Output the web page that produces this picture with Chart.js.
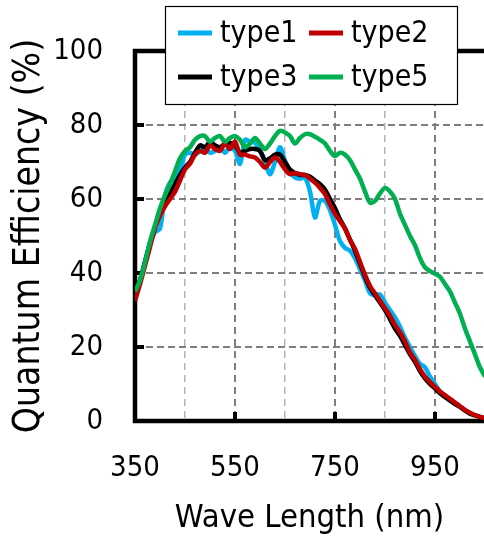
<!DOCTYPE html>
<html>
<head>
<meta charset="utf-8">
<script src="https://cdn.jsdelivr.net/npm/chart.js@4.4.1/dist/chart.umd.min.js"></script>
<style>
  html, body { margin: 0; padding: 0; background: #fff; }
  #wrap { width: 484px; height: 540px; }
</style>
</head>
<body>
<div id="wrap"><canvas id="qeChart" width="484" height="540"></canvas></div>
<script>
// wavelength (nm) sampled every 10 nm
const wavelengths = [350, 360, 370, 380, 390, 400, 410, 420, 430, 440,
    450, 460, 470, 480, 490, 500, 510, 520, 530, 540,
    550, 560, 570, 580, 590, 600, 610, 620, 630, 640,
    650, 660, 670, 680, 690, 700, 710, 720, 730, 740,
    750, 760, 770, 780, 790, 800, 810, 820, 830, 840,
    850, 860, 870, 880, 890, 900, 910, 920, 930, 940,
    950, 960, 970, 980, 990, 1000, 1010, 1020, 1030, 1040, 1050];

// quantum efficiency (%)
const type1 = [34, 38, 43, 48, 51, 52, 61, 64.5, 65.5, 68,
    72, 72.5, 72, 73, 74, 72.5, 73, 74, 72.5, 74,
    73, 69.5, 76, 75.5, 75.2, 73, 70, 66.7, 70, 74,
    70.3, 67.5, 65.8, 65.5, 65.8, 62, 55, 59.5, 59.5, 57,
    53, 48.6, 46.8, 46, 44, 41, 38, 34.5, 34, 34.2,
    32, 30, 28, 25.5, 22.5, 20, 17.5, 15.5, 14.5, 12,
    10, 8, 6.8, 5.8, 4.8, 4];
const type2 = [32.5, 37, 42, 47, 52, 55.5, 58, 60, 62, 65,
    68, 69.5, 72, 73, 72.5, 74.5, 73.5, 73, 75, 73.5,
    75.5, 72, 72, 71.5, 71.2, 70, 68.5, 70, 71.2, 70,
    68, 66.7, 67, 66.7, 66.5, 65.5, 64.4, 63, 61.3, 58.5,
    56, 54, 52, 49, 46.5, 43, 39.5, 36.5, 34.5, 32.5,
    30.5, 28.5, 26, 24, 21.5, 18.5, 16.5, 14, 12, 10.5,
    9.2, 8, 7, 6, 5, 4, 3, 2.2, 1.6, 1.1, 0.8];
const type3 = [34, 38, 43, 48, 52.5, 56, 59, 61.5, 64, 66.5,
    68.5, 70, 72.5, 74.5, 74, 75.5, 74.5, 74, 75, 75.2,
    74.5, 72.5, 73, 73.5, 73.5, 73, 70.5, 71, 72, 72,
    70, 68, 67, 66.5, 66.5, 66, 65, 64, 62.5, 60,
    57.5, 54.5, 52, 49, 46, 42.5, 39, 36, 34, 32,
    30, 27.5, 25, 23, 20.5, 18, 16, 13.5, 11.5, 10,
    8.8, 7.5, 6.5, 5.5, 4.6, 3.8, 2.8, 2, 1.5, 1.1, 0.8];
const type5 = [35, 38, 43, 48.5, 53, 57.5, 61, 64, 67.5, 71,
    73, 74, 76, 77, 77, 75.5, 76.5, 77, 75.5, 76.5,
    77, 76, 74, 75, 76.5, 75, 73.5, 75, 77, 78.4,
    78, 77, 75, 76.5, 77.5, 77.5, 76.8, 76, 75, 73,
    71.6, 72.5, 72, 70.5, 68, 65.5, 62, 59, 59.5, 61.5,
    63, 62, 60, 56, 53, 50, 47.5, 44, 41.5, 40.5,
    39.8, 39, 37, 35, 32, 29, 25, 21.5, 18, 14.5, 12];

const seriesNames = ['type1', 'type2', 'type3', 'type5'];
const seriesColors = ['#00B0F0', '#C00000', '#000000', '#00B050'];
const seriesValues = [type1, type2, type3, type5];
const drawOrder = [3, 1, 2, 0]; // green on top, blue at the bottom

const xGridValues = [350, 450, 550, 650, 750, 850, 950];
const xTickLabels = [350, 550, 750, 950];
const yTickMarks = [20, 40, 60, 80];

const FONT = '"DejaVu Sans Condensed", "DejaVu Sans", sans-serif';
Chart.defaults.font.family = FONT;
Chart.defaults.color = '#000';

// axes frame with inward tick marks, drawn under the curves
const frame = {
    id: 'frame',
    beforeDatasetsDraw(chart) {
        const { ctx, chartArea: a, scales: { x, y } } = chart;
        ctx.save();
        ctx.strokeStyle = '#000';
        ctx.lineWidth = 4.5;
        ctx.beginPath();
        ctx.moveTo(a.right + 5, a.top);
        ctx.lineTo(a.left, a.top);
        ctx.lineTo(a.left, a.bottom);
        ctx.lineTo(a.right + 5, a.bottom);
        ctx.stroke();
        ctx.lineWidth = 4;
        ctx.beginPath();
        xTickLabels.forEach(v => {
            if (v === x.min) return;
            const px = x.getPixelForValue(v);
            ctx.moveTo(px, a.bottom);
            ctx.lineTo(px, a.bottom - 9);
        });
        yTickMarks.forEach(v => {
            const py = y.getPixelForValue(v);
            ctx.moveTo(a.left, py);
            ctx.lineTo(a.left + 9, py);
        });
        ctx.stroke();
        ctx.restore();
    }
};

// boxed two-column legend sitting over the top edge of the plot
const legendBox = {
    id: 'legendBox',
    afterDraw(chart) {
        const ctx = chart.ctx;
        const box = { left: 165, top: 6, width: 292, height: 98 };
        ctx.save();
        ctx.fillStyle = '#fff';
        ctx.fillRect(box.left, box.top, box.width, box.height);
        ctx.strokeStyle = '#000';
        ctx.lineWidth = 1.2;
        ctx.strokeRect(box.left + 0.5, box.top + 0.5, box.width, box.height);
        ctx.font = '30px ' + FONT;
        ctx.textBaseline = 'middle';
        ctx.textAlign = 'left';
        const colX = [178, 309];
        const rowY = [33, 77];
        chart.data.datasets.forEach((ds, i) => {
            const cx = colX[i % 2];
            const cy = rowY[Math.floor(i / 2)];
            ctx.strokeStyle = ds.borderColor;
            ctx.lineWidth = 5;
            ctx.beginPath();
            ctx.moveTo(cx, cy);
            ctx.lineTo(cx + 34, cy);
            ctx.stroke();
            ctx.fillStyle = '#000';
            ctx.fillText(ds.label, cx + 42, cy + 1);
        });
        ctx.restore();
    }
};

const datasets = seriesNames.map((name, i) => ({
    label: name,
    data: seriesValues[i].map((v, k) => ({ x: wavelengths[k], y: v })),
    borderColor: seriesColors[i],
    backgroundColor: seriesColors[i],
    borderWidth: 4.5,
    pointRadius: 0,
    tension: 0.3,
    fill: false,
    order: drawOrder[i]
}));

new Chart(document.getElementById('qeChart'), {
    type: 'line',
    data: { datasets: datasets },
    options: {
        responsive: false,
        animation: false,
        devicePixelRatio: 1,
        layout: { padding: { top: 51, right: 0, left: 0, bottom: 0 } },
        plugins: {
            legend: { display: false },
            tooltip: { enabled: false }
        },
        scales: {
            x: {
                type: 'linear',
                min: 350,
                max: 1048,
                afterFit: scale => {
                    scale.height = 119;
                    scale.paddingLeft = 0;
                    scale.paddingRight = 0;
                },
                afterBuildTicks: scale => {
                    scale.ticks = xGridValues.map(v => ({ value: v }));
                },
                border: { display: false, dash: [7, 5] },
                grid: {
                    drawTicks: false,
                    color: c => {
                        const v = c.tick && c.tick.value;
                        if (v === 350) return 'rgba(0,0,0,0)';
                        return xTickLabels.includes(v) ? '#7f7f7f' : '#b4b4b4';
                    },
                    lineWidth: c => (c.tick && xTickLabels.includes(c.tick.value)) ? 2 : 1.5
                },
                ticks: {
                    autoSkip: false,
                    maxRotation: 0,
                    padding: 30,
                    font: { size: 29 },
                    callback: v => xTickLabels.includes(v) ? String(v) : ''
                },
                title: {
                    display: true,
                    text: 'Wave Length (nm)',
                    font: { size: 32.5 },
                    padding: { top: 0, bottom: 2 }
                }
            },
            y: {
                min: 0,
                max: 100,
                afterFit: scale => { scale.width = 135; },
                border: { display: false, dash: [7, 4] },
                grid: {
                    drawTicks: false,
                    color: c => {
                        const v = c.tick && c.tick.value;
                        return (v === 0 || v === 100) ? 'rgba(0,0,0,0)' : '#7f7f7f';
                    },
                    lineWidth: 2
                },
                ticks: {
                    stepSize: 20,
                    padding: 32,
                    font: { size: 29 }
                },
                title: {
                    display: true,
                    text: 'Quantum Efficiency (%)',
                    font: { size: 37 },
                    padding: { top: 7, bottom: 0 }
                }
            }
        }
    },
    plugins: [frame, legendBox]
});
</script>
</body>
</html>
